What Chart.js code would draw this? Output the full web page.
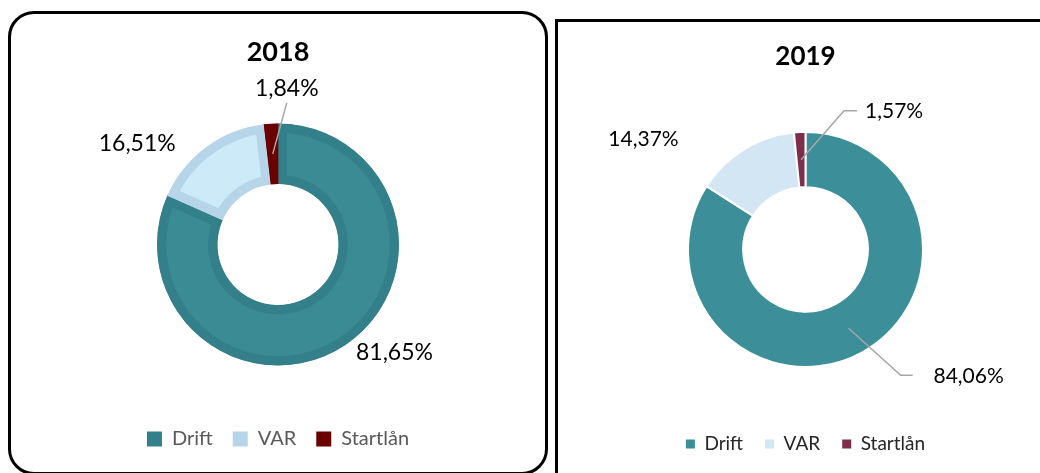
<!DOCTYPE html>
<html>
<head>
<meta charset="utf-8">
<script src="https://cdn.jsdelivr.net/npm/chart.js@4.4.0/dist/chart.umd.min.js"></script>
<style>
    body { margin: 0; width: 1040px; height: 473px; overflow: hidden; background: #fff; position: relative; }
    #graph2018 { position: absolute; left: 0; top: 0; }
    #graph2019 { position: absolute; left: 550px; top: 0; }
    .frame { position: absolute; box-sizing: border-box; border: 3px solid #000; pointer-events: none; }
    #frame2018 { left: 8px; top: 11px; width: 540px; height: 464px; border-radius: 26px; }
    #frame2019 { left: 555px; top: 19px; width: 520px; height: 520px; }
</style>
</head>
<body>
<canvas id="graph2018" width="550" height="473"></canvas>
<canvas id="graph2019" width="490" height="480"></canvas>
<div class="frame" id="frame2018"></div>
<div class="frame" id="frame2019"></div>
<script>
var categories = ['Drift', 'VAR', 'Startlån'];
var andel2018 = [81.65, 16.51, 1.84];
var andel2019 = [84.06, 14.37, 1.57];

// percent labels, placed from each slice's middle point
function makeSliceLabels(place, font) {
    return {
        id: 'sliceLabels',
        afterDatasetsDraw: function (chart) {
            var ctx = chart.ctx;
            var data = chart.data.datasets[0].data;
            ctx.save();
            ctx.font = font;
            ctx.fillStyle = '#000';
            ctx.textAlign = 'center';
            ctx.textBaseline = 'middle';
            chart.getDatasetMeta(0).data.forEach(function (arc, i) {
                var p = arc.getProps(['x', 'y', 'startAngle', 'endAngle', 'innerRadius', 'outerRadius'], true);
                var mid = (p.startAngle + p.endAngle) / 2;
                var r = (p.innerRadius + p.outerRadius) / 2;
                var ax = p.x + Math.cos(mid) * r;
                var ay = p.y + Math.sin(mid) * r;
                var lx = ax + place[i].dx;
                var ly = ay + place[i].dy;
                if (place[i].line) {
                    ctx.beginPath();
                    ctx.moveTo(ax, ay);
                    place[i].line.forEach(function (pt) {
                        ctx.lineTo(lx + pt[0], ly + pt[1]);
                    });
                    ctx.strokeStyle = '#A6A6A6';
                    ctx.lineWidth = 1.5;
                    ctx.stroke();
                }
                ctx.fillText(data[i].toFixed(2).replace('.', ',') + '%', lx, ly);
            });
            ctx.restore();
        }
    };
}

function legendItems(useBorder) {
    return function (chart) {
        var items = Chart.overrides.doughnut.plugins.legend.labels.generateLabels(chart);
        items.forEach(function (it) {
            if (useBorder) it.fillStyle = it.strokeStyle;
            it.lineWidth = 0;
        });
        return items;
    };
}

function showGraph2018() {
    new Chart(document.getElementById('graph2018'), {
        type: 'doughnut',
        data: {
            labels: categories,
            datasets: [{
                data: andel2018,
                backgroundColor: ['#3A8B93', '#CDEAF9', '#7A0000'],
                borderColor: ['#34808A', '#B7D5E8', '#6A0000'],
                borderWidth: 9,
                borderAlign: 'inner'
            }]
        },
        options: {
            responsive: false,
            animation: false,
            radius: 121,
            cutout: '50%',
            layout: { padding: { left: 10, right: 4, top: 0, bottom: 14 } },
            plugins: {
                title: {
                    display: true,
                    text: '2018',
                    color: '#000',
                    font: { family: 'Lato', size: 27, weight: 'bold' },
                    padding: { top: 35.8, bottom: 11.8 }
                },
                legend: {
                    position: 'bottom',
                    labels: {
                        color: '#595959',
                        font: { family: 'Lato', size: 20 },
                        boxWidth: 15,
                        boxHeight: 15,
                        padding: 20,
                        generateLabels: legendItems(true)
                    }
                },
                tooltip: { enabled: false }
            }
        },
        plugins: [makeSliceLabels([
            { dx: 67, dy: 32 },
            { dx: -87, dy: -28 },
            { dx: 14, dy: -65, line: [[0, 14]] }
        ], '23px Lato')]
    });
}

function showGraph2019() {
    new Chart(document.getElementById('graph2019'), {
        type: 'doughnut',
        data: {
            labels: categories,
            datasets: [{
                data: andel2019,
                backgroundColor: ['#3C8F98', '#D3E6F3', '#7E2E4B'],
                borderColor: '#fff',
                borderWidth: 2
            }]
        },
        options: {
            responsive: false,
            animation: false,
            radius: 117.5,
            cutout: '53%',
            layout: { padding: { left: 21, right: 0, top: 0, bottom: 16.5 } },
            plugins: {
                title: {
                    display: true,
                    text: '2019',
                    color: '#000',
                    font: { family: 'Lato', size: 26, weight: 'bold' },
                    padding: { top: 41.4, bottom: 13.8 }
                },
                legend: {
                    position: 'bottom',
                    labels: {
                        color: '#262626',
                        font: { family: 'Lato', size: 19 },
                        boxWidth: 9,
                        boxHeight: 9,
                        padding: 22,
                        generateLabels: legendItems(false)
                    }
                },
                tooltip: { enabled: false }
            }
        },
        plugins: [makeSliceLabels([
            { dx: 120, dy: 48, line: [[-68, -1], [-56, -1]] },
            { dx: -115, dy: -34 },
            { dx: 93, dy: -48, line: [[-50, -1], [-37, -1]] }
        ], '21px Lato')]
    });
}

showGraph2018();
showGraph2019();
</script>
</body>
</html>
